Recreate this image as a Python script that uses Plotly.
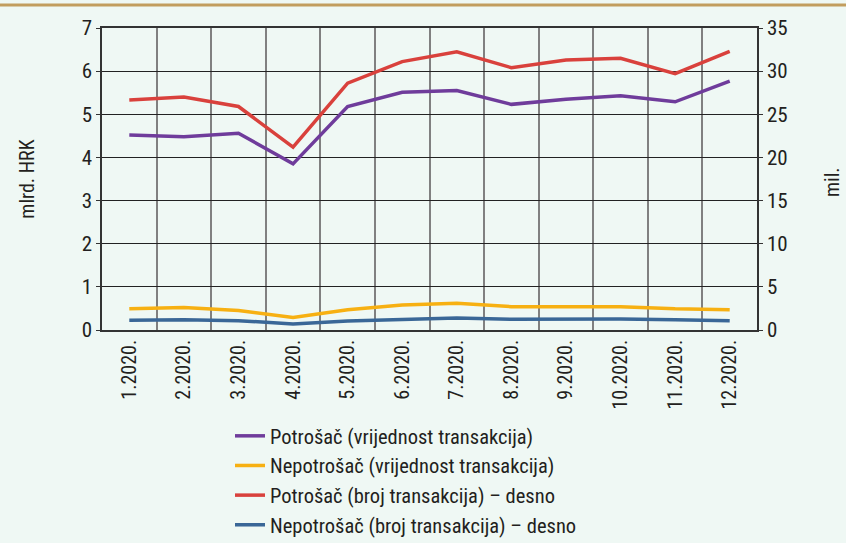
import plotly.graph_objects as go

months = ["1.2020.", "2.2020.", "3.2020.", "4.2020.", "5.2020.", "6.2020.",
          "7.2020.", "8.2020.", "9.2020.", "10.2020.", "11.2020.", "12.2020."]
potrosac_vrijednost = [4.52, 4.48, 4.56, 3.85, 5.18, 5.51, 5.55, 5.23, 5.35, 5.43, 5.29, 5.77]
nepotrosac_vrijednost = [0.49, 0.52, 0.45, 0.29, 0.47, 0.58, 0.62, 0.54, 0.54, 0.54, 0.49, 0.47]
potrosac_broj = [26.65, 27.0, 25.9, 21.2, 28.6, 31.1, 32.25, 30.4, 31.3, 31.5, 29.7, 32.3]
nepotrosac_broj = [1.12, 1.2, 1.08, 0.7, 1.04, 1.24, 1.39, 1.24, 1.28, 1.28, 1.2, 1.08]

FONT = "Liberation Sans Narrow, Arial Narrow, Roboto Condensed, Liberation Sans, sans-serif"
BG = "#eff8f4"
PH = 302.0  # plot height in px
PW = 655.0  # plot width in px

fig = go.Figure()
fig.add_trace(go.Scatter(x=months, y=potrosac_vrijednost, mode="lines",
                         name="Potrošač (vrijednost transakcija)",
                         line=dict(color="#6f3c9b", width=3.5)))
fig.add_trace(go.Scatter(x=months, y=nepotrosac_vrijednost, mode="lines",
                         name="Nepotrošač (vrijednost transakcija)",
                         line=dict(color="#f7b012", width=3.5)))
fig.add_trace(go.Scatter(x=months, y=potrosac_broj, mode="lines", yaxis="y2",
                         name="Potrošač (broj transakcija) – desno",
                         line=dict(color="#d9413c", width=3.5)))
fig.add_trace(go.Scatter(x=months, y=nepotrosac_broj, mode="lines", yaxis="y2",
                         name="Nepotrošač (broj transakcija) – desno",
                         line=dict(color="#3a6797", width=3.5)))

fig.update_layout(
    width=846, height=543,
    paper_bgcolor=BG, plot_bgcolor=BG,
    margin=dict(l=102, r=89, t=28, b=213, autoexpand=False),
    font=dict(family=FONT, size=19, color="#231f20"),
    showlegend=True,
    legend=dict(orientation="v", x=(230 - 102) / PW, xanchor="left",
                y=-(416 - 330) / PH, yanchor="top",
                bgcolor="rgba(0,0,0,0)", font=dict(size=20.5, family=FONT),
                tracegroupgap=0, itemwidth=30),
    xaxis=dict(type="category", tickangle=-90, tickson="boundaries",
               showgrid=True, gridcolor="#808080", gridwidth=1.5,
               showline=True, linecolor="#333333", linewidth=1.5, mirror=True,
               ticks="", tickfont=dict(size=20), range=[-0.5, 11.5],
               automargin=False),
    yaxis=dict(range=[0, 7], dtick=1, showgrid=True, gridcolor="#222222", gridwidth=1.2,
               showline=True, linecolor="#333333", linewidth=1.5, zeroline=False,
               ticks="outside", ticklen=4, tickcolor="#333333",
               tickfont=dict(size=21), automargin=False,
               title=dict(text="mlrd. HRK", font=dict(size=20), standoff=42)),
    yaxis2=dict(range=[0, 35], dtick=5, overlaying="y", side="right",
                showgrid=False, zeroline=False, showline=True, linecolor="#333333",
                linewidth=1.5, ticks="outside", ticklen=4, tickcolor="#333333",
                tickfont=dict(size=21), automargin=False),
    shapes=[dict(type="line", xref="paper", yref="paper", x0=-0.2, x1=1.2,
                 y0=1 + 23 / PH, y1=1 + 23 / PH,
                 line=dict(color="#c29d5e", width=3))],
    annotations=[dict(text="mil.", xref="paper", yref="paper",
                      x=1 + (818 - 757) / PW, y=(330 - 182) / PH,
                      xanchor="left", yanchor="middle",
                      textangle=-90, showarrow=False, font=dict(size=20))],
)

fig.write_html(
    "out.html",
    config={"displayModeBar": False},
    post_script="document.body.style.margin='0';document.body.style.background='#eff8f4';",
)
